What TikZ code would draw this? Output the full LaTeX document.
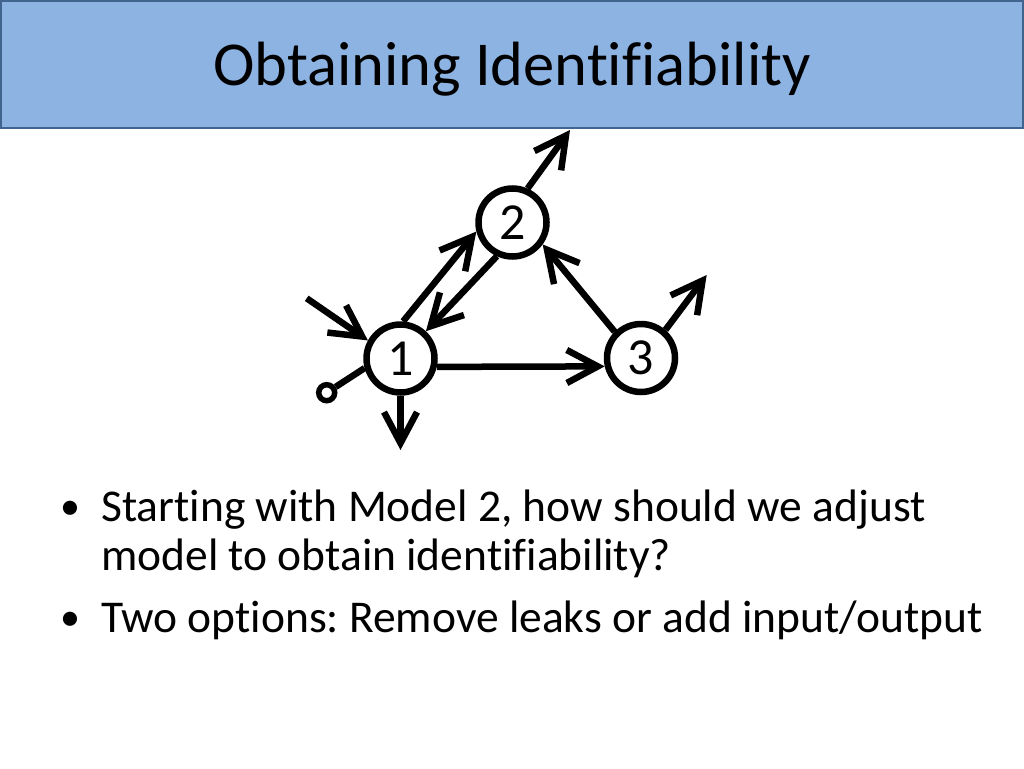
\documentclass[tikz,border=0pt]{standalone}
\usepackage{fontspec}
\setmainfont{Carlito}[Ligatures=NoCommon]
\frenchspacing
\usetikzlibrary{arrows.meta}
\definecolor{titlefill}{HTML}{8DB3E2}
\definecolor{titleline}{HTML}{41648F}
\tikzset{
  state/.style={circle, draw, line width=6.5pt, minimum size=68pt, inner sep=0pt, font=\fontsize{52}{52}\selectfont},
  flow/.style={line width=6.5pt, -{Straight Barb[length=31pt,width=33pt]}},
  bullettext/.style={anchor=base west, inner sep=0pt, font=\fontsize{45.5}{49}\selectfont},
}
\begin{document}
\begin{tikzpicture}[x=1pt,y=-1pt]
        \useasboundingbox (0,0) rectangle (1024,768);
        \draw[fill=titlefill, draw=titleline, line width=2pt] (1,1) rectangle (1023,128);
        \node[anchor=base, inner sep=0pt, font=\fontsize{62.5}{70}\selectfont] (title) at (512,85) {Obtaining Identifiability};

        \node[state] (n1) at (400.5,358.5) {1};
        \node[state] (n2) at (512.5,222.5) {2};
        \node[state] (n3) at (641,358) {3};

        \coordinate (in1) at (306.7,298.3);
        \coordinate (out1) at (400.5,450);
        \coordinate (out2) at (570,130);
        \coordinate (out3) at (706.7,275);
        \node[circle, draw, line width=5.5pt, minimum size=16pt, inner sep=0pt] (leak) at (326.7,392.7) {};

        \draw[flow] (in1) -- (n1.151);
        \draw[flow] (n1.south) -- (out1);
        \draw[line width=6.5pt] (leak) -- (n1.195);
        \draw[flow] (n1.86) -- (n2.194);
        \draw[flow] (n2.245) -- (n1.47);
        \draw[flow] (n1.-13.3) -- (n3.193.3);
        \draw[flow] (n3.135) -- (n2.-36);
        \draw[flow] (n2.66) -- (out2);
        \draw[flow] (n3.49) -- (out3);

        \node[bullettext, anchor=base, font=\fontsize{40}{49}\selectfont] (dot1) at (70,519) {•};
        \node[bullettext] (q1a) at (101,521) {Starting with Model 2, how should we adjust};
        \node[bullettext] (q1b) at (101,570) {model to obtain identifiability?};
        \node[bullettext, anchor=base, font=\fontsize{40}{49}\selectfont] (dot2) at (70,630) {•};
        \node[bullettext] (q2) at (101,632) {Two options: Remove leaks or add input/output};
\end{tikzpicture}
\end{document}
